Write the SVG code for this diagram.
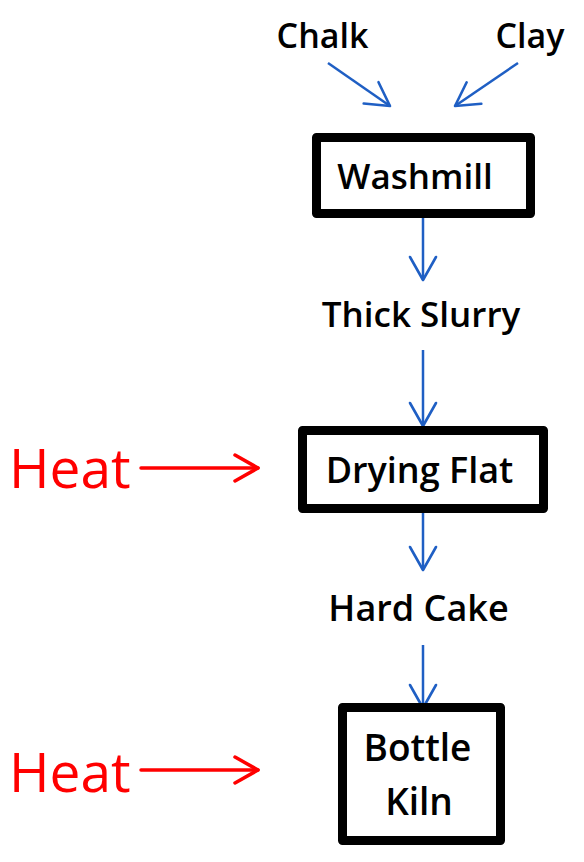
<svg xmlns="http://www.w3.org/2000/svg" width="584" height="862" viewBox="0 0 584 862">
<style>
.t{font-family:"Open Sans","Liberation Sans",sans-serif;font-weight:600;fill:#000;text-anchor:middle}
.h{font-family:"Open Sans","Liberation Sans",sans-serif;font-weight:400;fill:#ff0000;font-size:55px}
.box{fill:#fff;stroke:#000;stroke-width:9;stroke-linejoin:round}
.b{stroke:#1f5fc4;stroke-width:2.5;fill:none}
.r{stroke:#ff0000;stroke-width:3.5;fill:none;stroke-linecap:round}
</style>
<defs>
<marker id="ab" markerUnits="userSpaceOnUse" markerWidth="40" markerHeight="40" refX="0" refY="0" viewBox="-30 -20 40 40" orient="auto" overflow="visible">
<path d="M-23,-13 L0,0 L-23,13" fill="none" stroke="#1f5fc4" stroke-width="2.6" stroke-linecap="round" stroke-linejoin="round"/>
</marker>
<marker id="ar" markerUnits="userSpaceOnUse" markerWidth="40" markerHeight="40" refX="0" refY="0" viewBox="-30 -20 40 40" orient="auto" overflow="visible">
<path d="M-23,-13 L0,0 L-23,13" fill="none" stroke="#ff0000" stroke-width="3.5" stroke-linecap="round" stroke-linejoin="round"/>
</marker>
</defs>
<rect width="584" height="862" fill="#fff"/>
<g id="connectors">
<line class="b" x1="328" y1="63" x2="390" y2="106" marker-end="url(#ab)"/>
<line class="b" x1="518" y1="63" x2="455" y2="106" marker-end="url(#ab)"/>
<line class="b" x1="423" y1="218" x2="423" y2="280" marker-end="url(#ab)"/>
<line class="b" x1="423" y1="350" x2="423" y2="426" marker-end="url(#ab)"/>
<line class="b" x1="423" y1="513" x2="423" y2="570" marker-end="url(#ab)"/>
<line class="b" x1="423" y1="645" x2="423" y2="708" marker-end="url(#ab)"/>
<line class="r" x1="141" y1="468" x2="258" y2="468" marker-end="url(#ar)"/>
<line class="r" x1="141" y1="770" x2="258" y2="770" marker-end="url(#ar)"/>
</g>
<g id="chalk"><text class="t" x="322.5" y="48" font-size="34">Chalk</text></g>
<g id="clay"><text class="t" x="530" y="48" font-size="34">Clay</text></g>
<g id="washmill"><rect class="box" x="316.5" y="137.5" width="214" height="76"/><text class="t" x="415" y="189" font-size="35">Washmill</text></g>
<g id="thick-slurry"><text class="t" x="421" y="327" font-size="35">Thick Slurry</text></g>
<g id="drying-flat"><rect class="box" x="302.5" y="430.5" width="241" height="78"/><text class="t" x="419.5" y="483" font-size="36">Drying Flat</text></g>
<g id="hard-cake"><text class="t" x="418.5" y="621" font-size="36">Hard Cake</text></g>
<g id="bottle-kiln"><rect class="box" x="342.5" y="707.5" width="158" height="133"/><text class="t" x="417.5" y="761" font-size="37">Bottle</text><text class="t" x="419" y="815" font-size="37">Kiln</text></g>
<g id="heat1"><text class="h" x="9" y="488">Heat</text></g>
<g id="heat2"><text class="h" x="9" y="792">Heat</text></g>
</svg>
